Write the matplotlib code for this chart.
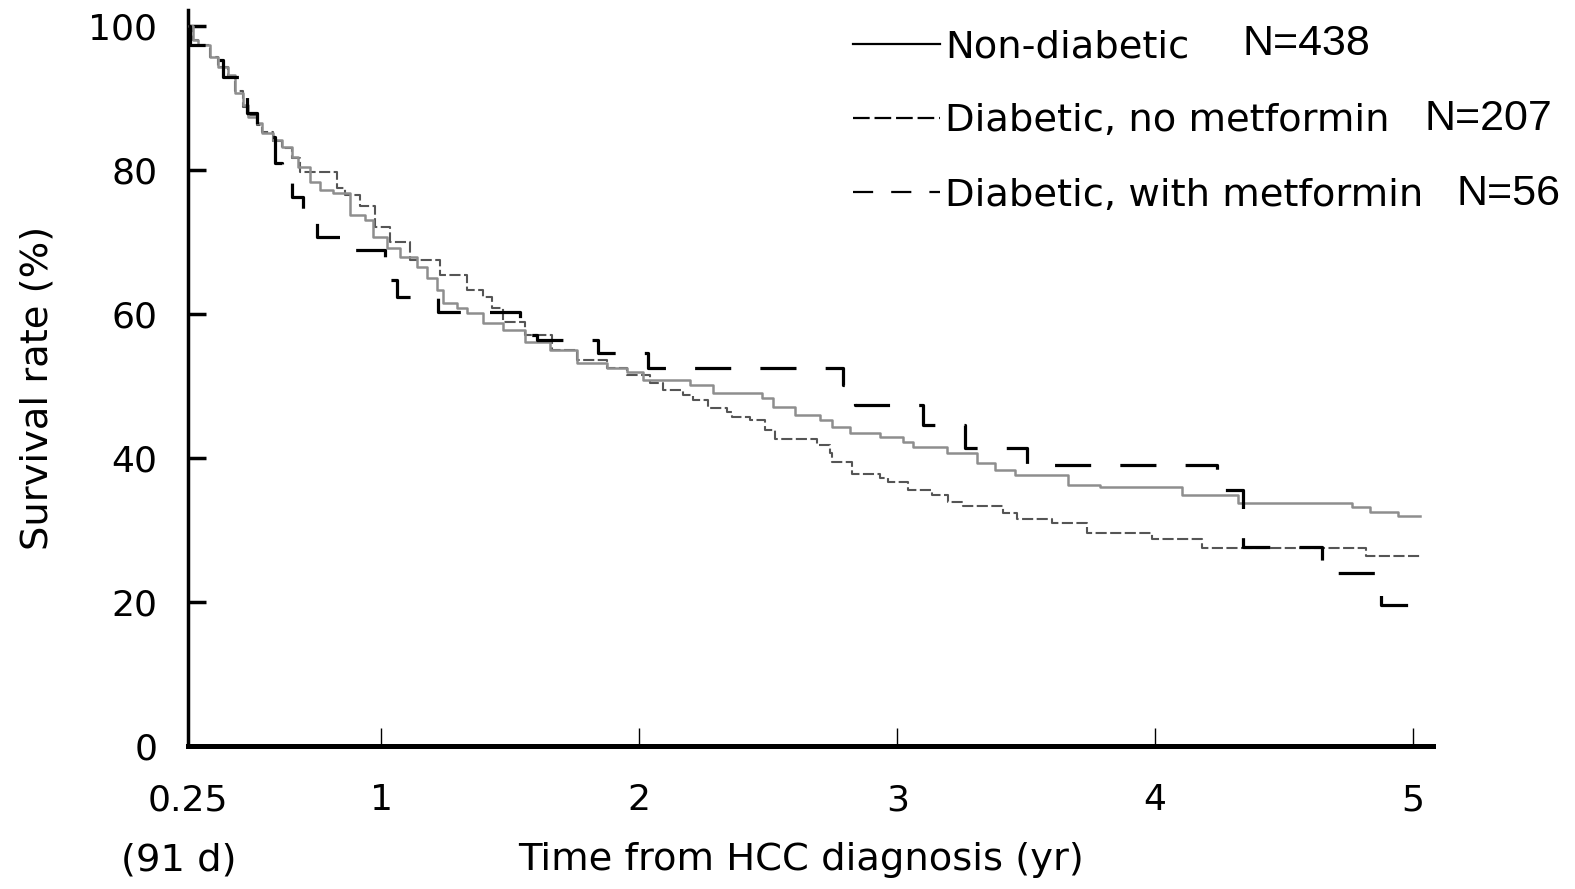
import matplotlib
matplotlib.use("Agg")
import matplotlib.pyplot as plt
import matplotlib.transforms as mtransforms
from matplotlib.lines import Line2D

plt.rcParams['lines.scale_dashes'] = False
MAINF = ['DejaVu Sans']
PLAIN = ['Liberation Sans', 'DejaVu Sans']

# ---- data (years, survival %) ----
t_nondiab = [0.25, 0.269, 0.289, 0.335, 0.366, 0.405, 0.432, 0.463, 0.483, 0.518,
             0.537, 0.580, 0.615, 0.653, 0.677, 0.723, 0.762, 0.812, 0.878, 0.937,
             0.968, 1.022, 1.072, 1.138, 1.177, 1.216, 1.239, 1.293, 1.332, 1.394,
             1.472, 1.557, 1.654, 1.759, 1.875, 1.953, 2.015, 2.197, 2.286, 2.477,
             2.519, 2.605, 2.702, 2.748, 2.818, 2.934, 3.023, 3.062, 3.194, 3.311,
             3.380, 3.458, 3.664, 3.788, 4.106, 4.323, 4.765, 4.835, 4.940, 5.029]
s_nondiab = [100, 98.1, 97.4, 95.7, 94.3, 93.2, 90.7, 89.0, 87.4, 86.5,
             85.1, 84.2, 83.2, 81.8, 80.4, 78.3, 77.2, 76.8, 73.7, 73.1,
             70.7, 69.2, 67.9, 66.5, 65.0, 63.3, 61.5, 60.8, 60.1, 58.7,
             57.8, 56.1, 55.0, 53.2, 52.5, 51.9, 50.8, 50.1, 49.0, 48.3,
             47.1, 46.0, 45.3, 44.3, 43.5, 42.9, 42.2, 41.5, 40.7, 39.3,
             38.3, 37.6, 36.3, 36.0, 34.9, 33.8, 33.2, 32.5, 31.9, 31.9]

t_nomet = [0.25, 0.269, 0.289, 0.335, 0.366, 0.405, 0.432, 0.463, 0.483, 0.518,
           0.537, 0.580, 0.615, 0.653, 0.684, 0.828, 0.859, 0.917, 0.975, 1.034,
           1.111, 1.227, 1.332, 1.394, 1.430, 1.472, 1.557, 1.662, 1.759, 1.875,
           1.953, 2.042, 2.093, 2.170, 2.209, 2.267, 2.341, 2.360, 2.430, 2.488,
           2.527, 2.690, 2.740, 2.748, 2.826, 2.934, 2.965, 3.043, 3.136, 3.198,
           3.256, 3.411, 3.466, 3.601, 3.737, 3.989, 4.183, 4.816, 5.029]
s_nomet = [100, 98.1, 97.4, 95.7, 94.3, 93.0, 90.9, 88.8, 87.6, 86.3,
           85.3, 84.0, 83.0, 81.6, 79.7, 77.5, 76.5, 75.0, 72.0, 70.0,
           67.5, 65.4, 63.3, 62.4, 60.8, 58.9, 57.1, 55.0, 53.6, 52.5,
           51.5, 50.4, 49.4, 48.8, 48.1, 46.9, 46.4, 45.7, 45.3, 43.9,
           42.6, 41.8, 40.7, 39.4, 37.8, 37.2, 36.7, 35.6, 34.9, 33.9,
           33.3, 32.4, 31.5, 31.0, 29.6, 28.8, 27.5, 26.4, 26.4]

t_met = [0.25, 0.258, 0.324, 0.386, 0.479, 0.518, 0.560, 0.587, 0.615, 0.653,
         0.696, 0.743, 0.750, 0.867, 1.014, 1.061, 1.220, 1.538, 1.557, 1.604,
         1.840, 2.034, 2.791, 2.837, 3.101, 3.264, 3.504, 4.241, 4.342, 4.649,
         4.874, 5.029]
s_met = [100, 97.4, 95.3, 92.9, 87.9, 85.5, 84.6, 81.0, 78.2, 76.3,
         74.4, 72.6, 70.7, 68.9, 64.7, 62.4, 60.3, 58.0, 57.1, 56.4,
         54.6, 52.5, 50.1, 47.4, 44.6, 41.4, 39.0, 35.6, 27.6, 24.0,
         19.6, 19.6]

series_labels = ["Non-diabetic", "Diabetic, no metformin", "Diabetic, with metformin"]
series_n = ["N=438", "N=207", "N=56"]

x_ticks = [0.25, 1, 2, 3, 4, 5]
x_ticklabels = ["0.25", "1", "2", "3", "4", "5"]
y_ticks = [0, 20, 40, 60, 80, 100]
y_ticklabels = ["0", "20", "40", "60", "80", "100"]

W, H = 1575, 889
fig = plt.figure(figsize=(W / 100, H / 100), dpi=100)
ax = fig.add_axes([188 / W, 1 - 746 / H, (1433 - 188) / W, (746 - 10) / H])

ax.step(t_nondiab, s_nondiab, where='post', color='#8e8e8e', lw=1.8, zorder=3)
ax.step(t_nomet, s_nomet, where='post', color='#555555', lw=1.5,
        linestyle=(0, (8, 2.5)), zorder=2)
ax.step(t_met, s_met, where='post', color='black', lw=2.3,
        linestyle=(0, (26, 21)), zorder=4)

ax.set_xlim(0.25, 5.0775)
ax.set_ylim(0, 102.2)
ax.set_xticks(x_ticks)
ax.set_xticklabels(x_ticklabels, family=MAINF, fontsize=26)
ax.set_yticks(y_ticks)
ax.set_yticklabels(y_ticklabels, family=MAINF, fontsize=26)

for s in ['top', 'right']:
    ax.spines[s].set_visible(False)
ax.spines['bottom'].set_linewidth(3.6)
ax.spines['left'].set_linewidth(2.5)
ax.tick_params(axis='x', direction='in', length=13, width=1.0, pad=27)
ax.tick_params(axis='y', direction='in', length=13, width=2.5, pad=22)

ax.set_xlabel("Time from HCC diagnosis (yr)", family=MAINF, fontsize=27.7)
ax.xaxis.label.set_va('center')
ax.xaxis.set_label_coords((801 - 188) / 1245, (746 - 860) / 736)
ax.set_ylabel("Survival rate (%)", family=MAINF, fontsize=27.7)
ax.yaxis.label.set_va('center')
ax.yaxis.set_label_coords((38 - 188) / 1245, (746 - 388) / 736)

trans = mtransforms.blended_transform_factory(ax.transData, ax.transAxes)
ax.text(0.215, (746 - 860) / 736, "(91 d)", transform=trans, ha='center',
        va='center', family=MAINF, fontsize=27.7)

handles = [Line2D([], [], color='black', lw=1.6),
           Line2D([], [], color='black', lw=1.6, linestyle=(0, (12, 3.5))),
           Line2D([], [], color='black', lw=1.6, linestyle=(0, (14.5, 13)))]
leg = ax.legend(handles, series_labels, loc='upper left',
                bbox_to_anchor=(853 / W, 1 - 29 / H), bbox_transform=fig.transFigure,
                frameon=False, prop={'family': MAINF, 'size': 27.7},
                handlelength=2.26, handletextpad=0.13, labelspacing=1.0,
                borderpad=0, borderaxespad=0)

n_pos = [(1243, 44), (1424, 119), (1457, 194)]
for txt, (px, py) in zip(series_n, n_pos):
    fig.text(px / W, 1 - py / H, txt, ha='left', va='center', family=PLAIN, fontsize=31)

fig.savefig("out.png", dpi=100)
